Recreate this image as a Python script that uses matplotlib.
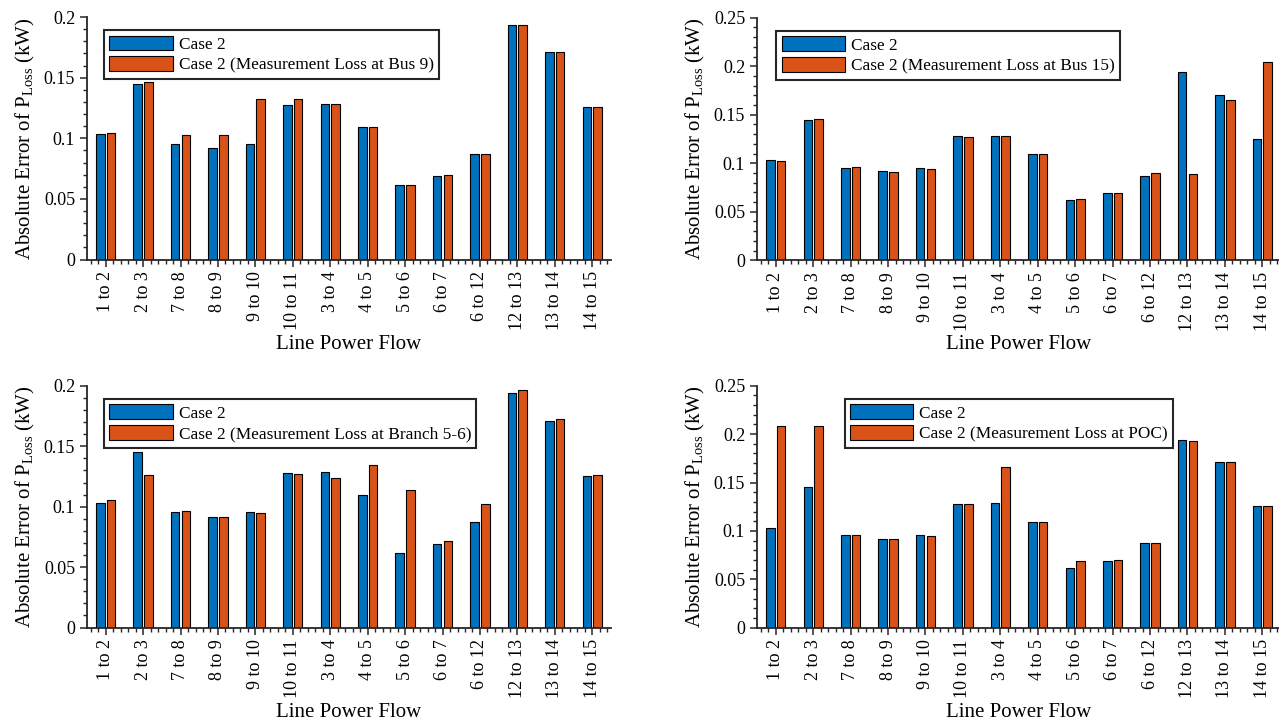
import numpy as np
import matplotlib
matplotlib.use("Agg")
import matplotlib.pyplot as plt
from matplotlib.ticker import MultipleLocator

plt.rcParams["font.family"] = ["Liberation Serif", "DejaVu Serif"]
plt.rcParams["mathtext.fontset"] = "custom"
plt.rcParams["mathtext.rm"] = "Liberation Serif"
plt.rcParams["mathtext.it"] = "Liberation Serif:italic"

lines = ["1 to 2", "2 to 3", "7 to 8", "8 to 9", "9 to 10", "10 to 11", "3 to 4",
         "4 to 5", "5 to 6", "6 to 7", "6 to 12", "12 to 13", "13 to 14", "14 to 15"]

case2 = [0.1033, 0.1451, 0.0954, 0.0916, 0.0952, 0.1277, 0.1283,
         0.1095, 0.0618, 0.0690, 0.0874, 0.1937, 0.1708, 0.1255]
loss_bus9 = [0.1043, 0.1462, 0.1026, 0.1026, 0.1324, 0.1324, 0.1283,
             0.1095, 0.0618, 0.0695, 0.0869, 0.1937, 0.1708, 0.1255]
loss_bus15 = [0.1024, 0.1455, 0.0959, 0.0910, 0.0945, 0.1276, 0.1279,
              0.1093, 0.0631, 0.0693, 0.0897, 0.0893, 0.1652, 0.2045]
loss_branch56 = [0.1055, 0.1265, 0.0961, 0.0912, 0.0945, 0.1273, 0.1240,
                 0.1345, 0.1141, 0.0718, 0.1025, 0.1964, 0.1724, 0.1265]
loss_poc = [0.2089, 0.2089, 0.0960, 0.0915, 0.0950, 0.1278, 0.1657,
            0.1091, 0.0691, 0.0694, 0.0877, 0.1934, 0.1709, 0.1253]

panels = [
    (loss_bus9, "Case 2 (Measurement Loss at Bus 9)", 0.2, 0.032),
    (loss_bus15, "Case 2 (Measurement Loss at Bus 15)", 0.25, 0.037),
    (loss_branch56, "Case 2 (Measurement Loss at Branch 5-6)", 0.2, 0.032),
    (loss_poc, "Case 2 (Measurement Loss at POC)", 0.25, 0.167),
]
# axes boxes in figure fractions (left, bottom, width, height)
boxes = [(0.068, 0.641, 0.4097, 0.3354), (0.5919, 0.640, 0.4097, 0.3354),
         (0.068, 0.132, 0.4097, 0.3344), (0.5919, 0.132, 0.4097, 0.3344)]

blue, orange = "#0072BD", "#D95319"
fig = plt.figure(figsize=(12.79, 7.23), dpi=100)
x = np.arange(1, len(lines) + 1)
w = 0.2286
for (vals, lab, ymax, lx), box in zip(panels, boxes):
    ax = fig.add_axes(box)
    ax.bar(x - 0.1429, case2, w, color=blue, edgecolor="black", linewidth=0.8, label="Case 2")
    ax.bar(x + 0.1429, vals, w, color=orange, edgecolor="black", linewidth=0.8, label=lab)
    ax.set_xlim(0.5, 14.5); ax.set_ylim(0, ymax)
    ax.set_xticks(x); ax.set_xticklabels(lines, rotation=90, fontsize=13)
    ax.yaxis.set_major_locator(MultipleLocator(0.05))
    ax.yaxis.set_major_formatter(matplotlib.ticker.FuncFormatter(lambda v, p: f"{v:g}"))
    ax.yaxis.set_minor_locator(MultipleLocator(0.01))
    ax.xaxis.set_minor_locator(MultipleLocator(0.2))
    ax.tick_params(axis="y", labelsize=13)
    ax.tick_params(which="major", direction="out", length=5, width=1.1, color="#262626")
    ax.tick_params(which="minor", direction="out", length=3, width=1.0, color="#262626")
    for s in ("top", "right"): ax.spines[s].set_visible(False)
    for s in ("left", "bottom"): ax.spines[s].set_linewidth(1.3); ax.spines[s].set_color("#262626")
    ax.set_xlabel("Line Power Flow", fontsize=15, labelpad=3)
    ax.set_ylabel(r"Absolute Error of P$_{\mathrm{Loss}}$ (kW)", fontsize=15, labelpad=5)
    leg = ax.legend(loc="upper left", bbox_to_anchor=(lx, 0.945), fontsize=12.4, fancybox=False,
                    framealpha=1, edgecolor="#262626", handlelength=3.7, handleheight=0.95,
                    handletextpad=0.35, borderpad=0.3, labelspacing=0.2, borderaxespad=0)
    leg.get_frame().set_linewidth(1.5)

fig.savefig("out.png", dpi=100)
